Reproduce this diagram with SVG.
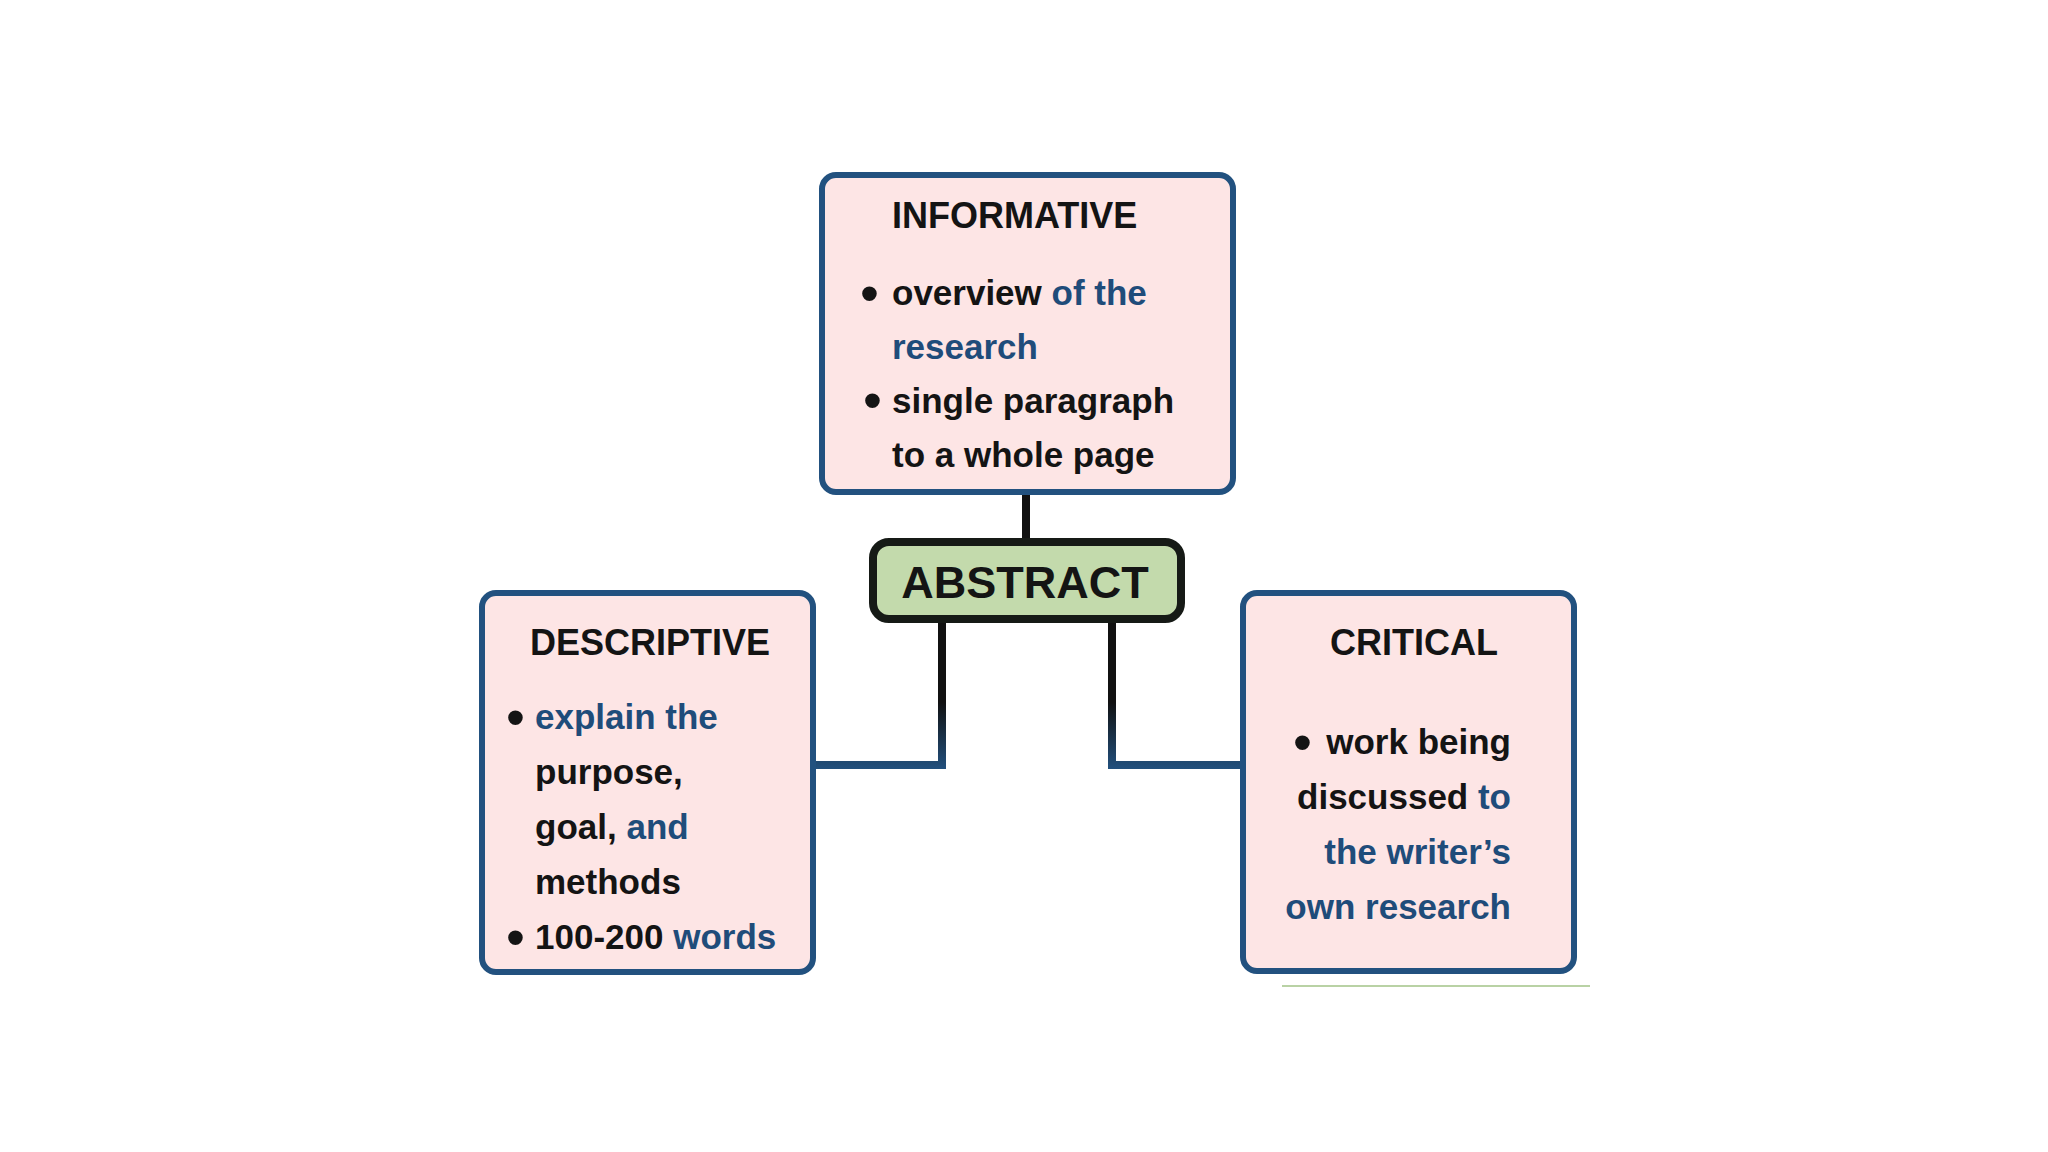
<svg xmlns="http://www.w3.org/2000/svg" width="2048" height="1152" viewBox="0 0 2048 1152">
<style>
.box{fill:#fde5e5;stroke:#22517f;stroke-width:6}
.abs{fill:#c3daac;stroke:#161a16;stroke-width:8}
.t{font-family:"Liberation Sans",Arial,sans-serif;font-weight:bold;fill:#141414}
.h{font-size:36px}
.b{font-size:35px}
.bl{fill:#1f4c7a}
.dot{font-family:"Liberation Sans",Arial,sans-serif;font-size:54px;fill:#141414}
.c{fill:none;stroke-width:8}
</style>
<defs>
<linearGradient id="g" gradientUnits="userSpaceOnUse" x1="0" y1="619" x2="0" y2="770">
<stop offset="0" stop-color="#111111"/>
<stop offset="0.55" stop-color="#111111"/>
<stop offset="1" stop-color="#22517f"/>
</linearGradient>
</defs>
<rect width="2048" height="1152" fill="#ffffff"/>
<g id="connectors">
<line x1="1026" y1="492" x2="1026" y2="542" stroke="#111111" stroke-width="8"/>
<path class="c" d="M942 619 V765 H813" stroke="url(#g)"/>
<path class="c" d="M1112 619 V765 H1243" stroke="url(#g)"/>
<line x1="1282" y1="986" x2="1590" y2="986" stroke="#b9d2a5" stroke-width="2"/>
</g>
<g id="informative">
<rect class="box" x="822" y="175" width="411" height="317" rx="14"/>
<text class="t h" x="892" y="228">INFORMATIVE</text>
<text class="dot" x="860" y="312">•</text>
<text class="t b" x="892" y="305">overview <tspan class="bl">of the</tspan></text>
<text class="t b bl" x="892" y="359">research</text>
<text class="dot" x="863" y="419">•</text>
<text class="t b" x="892" y="413">single paragraph</text>
<text class="t b" x="892" y="467">to a whole page</text>
</g>
<g id="abstract">
<rect class="abs" x="873" y="542" width="308" height="77" rx="16"/>
<text class="t" x="1025" y="598" font-size="45" text-anchor="middle" fill="#1a2418">ABSTRACT</text>
</g>
<g id="descriptive">
<rect class="box" x="482" y="593" width="331" height="379" rx="14"/>
<text class="t h" x="530" y="655">DESCRIPTIVE</text>
<text class="dot" x="506" y="736">•</text>
<text class="t b bl" x="535" y="729">explain the</text>
<text class="t b" x="535" y="784">purpose,</text>
<text class="t b" x="535" y="839">goal,<tspan class="bl"> and</tspan></text>
<text class="t b" x="535" y="894">methods</text>
<text class="dot" x="506" y="956">•</text>
<text class="t b" x="535" y="949">100-200 <tspan class="bl">words</tspan></text>
</g>
<g id="critical">
<rect class="box" x="1243" y="593" width="331" height="378" rx="14"/>
<text class="t h" x="1330" y="655">CRITICAL</text>
<text class="t b" x="1511" y="754" text-anchor="end">work being</text>
<text class="dot" x="1293" y="761">•</text>
<text class="t b" x="1511" y="809" text-anchor="end">discussed <tspan class="bl">to</tspan></text>
<text class="t b bl" x="1511" y="864" text-anchor="end">the writer’s</text>
<text class="t b bl" x="1511" y="919" text-anchor="end">own research</text>
</g>
</svg>
